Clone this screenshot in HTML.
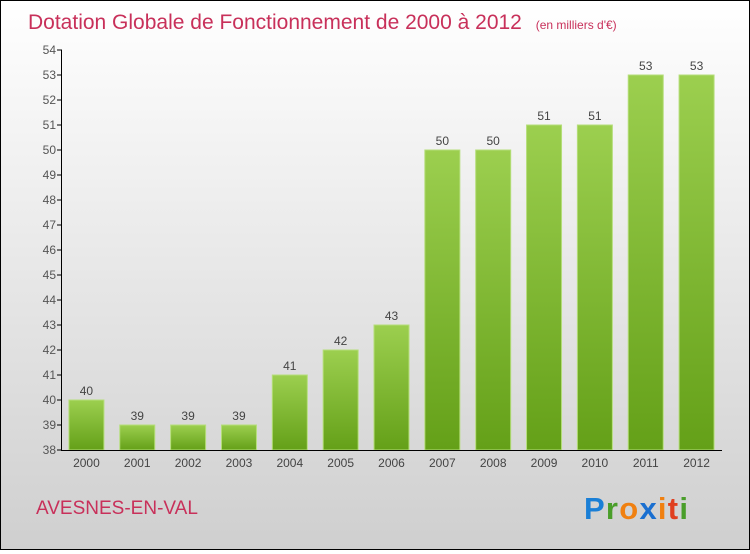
<!DOCTYPE html>
<html><head><meta charset="utf-8"><style>
body{margin:0;width:750px;height:550px;overflow:hidden}
#c{position:absolute;left:0;top:0;width:748px;height:548px;border:1px solid #000;background:linear-gradient(#fff,#cfcfcf)}
text{font-family:"Liberation Sans",sans-serif}
</style></head><body>
<div id="c">
<svg id="s" width="748" height="548">
<defs><linearGradient id="g" x1="0" y1="0" x2="0" y2="1"><stop offset="0" stop-color="#9ccf4f"/><stop offset="1" stop-color="#64a018"/></linearGradient></defs>
<text x="27" y="28" font-size="21" fill="#c8305a">Dotation Globale de Fonctionnement de 2000 à 2012 <tspan font-size="12" dx="8">(en milliers d'€)</tspan></text>
<text x="35" y="513" font-size="19" fill="#c8305a">AVESNES-EN-VAL</text>
<g font-size="31" font-weight="bold">
<text x="583" y="518" textLength="104"><tspan fill="#1a7fd6">P</tspan><tspan fill="#4a9e2a">r</tspan><tspan fill="#f08010">o</tspan><tspan fill="#1a6fd0">x</tspan><tspan fill="#f08010">i</tspan><tspan fill="#e04020">t</tspan><tspan fill="#4a9e2a">i</tspan></text></g>
<g id="plot"></g>
</svg></div>
<script>
const categories=["2000","2001","2002","2003","2004","2005","2006","2007","2008","2009","2010","2011","2012"];
const values=[40,39,39,39,41,42,43,50,50,51,51,53,53];
const yTicks=[38,39,40,41,42,43,44,45,46,47,48,49,50,51,52,53,54];
const X0=60,X1=721,Y0=449,Y1=49,yMin=38,yMax=54;
const ns="http://www.w3.org/2000/svg";
const g=document.getElementById('plot');
const y=v=>Y0-(v-yMin)/(yMax-yMin)*(Y0-Y1);
const bw=(X1-X0)/categories.length;
const x=i=>X0+bw*i+bw/2;
function el(t,a,p){const e=document.createElementNS(ns,t);for(const k in a)e.setAttribute(k,a[k]);(p||g).appendChild(e);return e;}
values.forEach((v,i)=>{
 const r=el('rect',{x:x(i)-17.5,y:y(v),width:35,height:Y0-y(v),fill:'url(#g)',stroke:'#b5de7a','stroke-width':1});
 
 
 const t=el('text',{x:x(i),y:y(v)-5,'text-anchor':'middle','font-size':12,fill:'#444'});t.textContent=v;
 
 
 const c=el('text',{x:x(i),y:Y0+17,'text-anchor':'middle','font-size':12,fill:'#444'});c.textContent=categories[i];
 
 
});
yTicks.forEach(v=>{
 el('line',{x1:X0-4,x2:X0+1,y1:y(v),y2:y(v),stroke:'#000'});
 const t=el('text',{x:X0-5,y:y(v)+4,'text-anchor':'end','font-size':12,fill:'#555'});t.textContent=v;
 
 
});
const ya=el('line',{x1:X0+.5,x2:X0+.5,y1:Y1,y2:Y0+.5,stroke:'#000'});


const xa=el('line',{x1:X0,x2:X1,y1:Y0+.5,y2:Y0+.5,stroke:'#000'});


</script>
</body></html>
